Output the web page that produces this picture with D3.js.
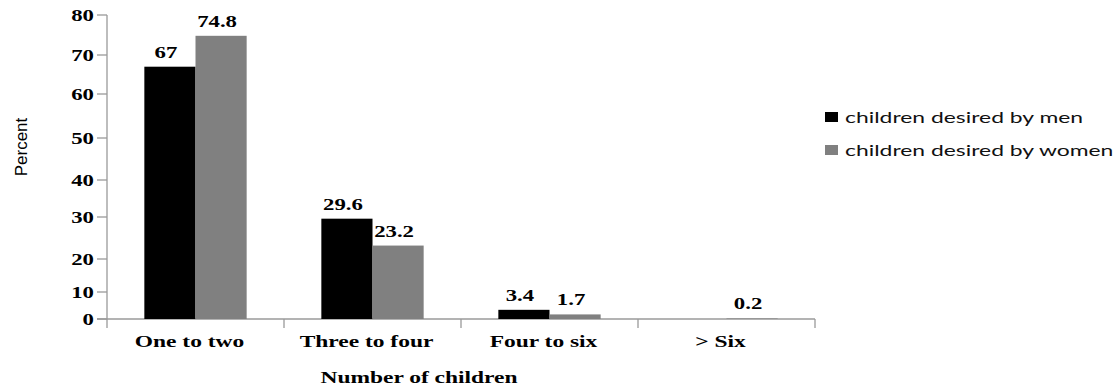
<!DOCTYPE html>
<html>
<head>
<meta charset="utf-8">
<script src="https://cdn.jsdelivr.net/npm/d3@7"></script>
<style>
  body { margin: 0; background: #fff; }
  svg { display: block; }
</style>
</head>
<body>
<div id="chart"></div>
<script>
// data
const categories = ["One to two", "Three to four", "Four to six", "> Six"];
const seriesNames = ["children desired by men", "children desired by women"];
const menValues = [67, 29.6, 3.4, null];
const womenValues = [74.8, 23.2, 1.7, 0.2];
const yTicks = [0, 10, 20, 30, 40, 50, 60, 70, 80];

const colors = ["#000000", "#808080"];
const width = 1117, height = 387;

// the original picture is stretched sideways, so is its text
const SERIF_SX = 1.38;
const LEGEND_SX = 1.43;
const serif = "'Liberation Serif', 'Times New Roman', serif";

const svg = d3.select("#chart").append("svg")
    .attr("width", width)
    .attr("height", height);

// x scales: outer band per category, inner band per series
const x0 = d3.scaleBand()
    .domain(categories)
    .range([107, 815])
    .paddingInner(0)
    .paddingOuter(0);

const x1 = d3.scaleBand()
    .domain(seriesNames)
    .range([0, x0.bandwidth()])
    .paddingInner(0)
    .paddingOuter(0.73);

// the source axis is unevenly spaced, so map each tick to where it sits
const y = d3.scaleLinear()
    .domain(yTicks)
    .range([319, 292, 259, 217, 180, 138, 94, 55, 15]);

const axisColor = "#9a9a9a";

function stretchedText(sel, sx) {
    sel.attr("transform", function() {
        const t = d3.select(this);
        return `translate(${t.attr("data-x")},${t.attr("data-y")}) scale(${sx},1)`;
    });
}

// y axis line + ticks
svg.append("line")
    .attr("x1", 107).attr("x2", 107)
    .attr("y1", y(80)).attr("y2", y(0))
    .attr("stroke", axisColor).attr("stroke-width", 1.3);

svg.selectAll(".ytick")
    .data(yTicks)
    .join("line")
    .attr("class", "ytick")
    .attr("x1", 97).attr("x2", 107)
    .attr("y1", d => y(d)).attr("y2", d => y(d))
    .attr("stroke", axisColor).attr("stroke-width", 1.3);

svg.selectAll(".ylabel")
    .data(yTicks)
    .join("text")
    .attr("class", "ylabel")
    .attr("data-x", 94)
    .attr("data-y", d => y(d) + 5.5)
    .attr("text-anchor", "end")
    .style("font-family", serif)
    .style("font-weight", "bold")
    .style("font-size", "16.5px")
    .text(d => d)
    .call(stretchedText, SERIF_SX);

// x axis line + ticks
svg.append("line")
    .attr("x1", 97).attr("x2", 815)
    .attr("y1", y(0)).attr("y2", y(0))
    .attr("stroke", axisColor).attr("stroke-width", 1.3);

const xTickPos = categories.map(c => x0(c)).concat([x0.range()[1]]);
svg.selectAll(".xtick")
    .data(xTickPos)
    .join("line")
    .attr("class", "xtick")
    .attr("x1", d => d).attr("x2", d => d)
    .attr("y1", y(0)).attr("y2", y(0) + 9)
    .attr("stroke", axisColor).attr("stroke-width", 1.3);

svg.selectAll(".xlabel")
    .data(categories)
    .join("text")
    .attr("class", "xlabel")
    .attr("data-x", d => x0(d) + x0.bandwidth() / 2 - 6)
    .attr("data-y", 347)
    .attr("text-anchor", "middle")
    .style("font-family", serif)
    .style("font-weight", "bold")
    .style("font-size", "17px")
    .text(d => d)
    .call(stretchedText, SERIF_SX);

// bars
const barData = [];
categories.forEach((c, i) => {
    barData.push({ cat: c, series: seriesNames[0], value: menValues[i], color: colors[0] });
    barData.push({ cat: c, series: seriesNames[1], value: womenValues[i], color: colors[1] });
});
const shown = barData.filter(d => d.value !== null);

svg.selectAll(".bar")
    .data(shown)
    .join("rect")
    .attr("class", "bar")
    .attr("x", d => x0(d.cat) + x1(d.series))
    .attr("width", x1.bandwidth())
    .attr("y", d => y(d.value))
    .attr("height", d => y(0) - y(d.value))
    .attr("fill", d => d.color);

// value labels
svg.selectAll(".vlabel")
    .data(shown)
    .join("text")
    .attr("class", "vlabel")
    .attr("data-x", d => x0(d.cat) + x1(d.series) + x1.bandwidth() / 2 - 4)
    .attr("data-y", d => y(d.value) - 9)
    .attr("text-anchor", "middle")
    .style("font-family", serif)
    .style("font-weight", "bold")
    .style("font-size", "16.5px")
    .text(d => d.value)
    .call(stretchedText, SERIF_SX);

// axis titles
svg.append("text")
    .attr("transform", "translate(27,147) rotate(-90)")
    .attr("text-anchor", "middle")
    .style("font-family", "'Liberation Sans', Arial, sans-serif")
    .style("font-size", "17px")
    .text("Percent");

svg.append("text")
    .attr("data-x", 419)
    .attr("data-y", 383)
    .attr("text-anchor", "middle")
    .style("font-family", serif)
    .style("font-weight", "bold")
    .style("font-size", "17px")
    .text("Number of children")
    .call(stretchedText, SERIF_SX);

// legend
const legend = svg.append("g").attr("class", "legend");
const legendY = [117, 150];

legend.selectAll("rect")
    .data(seriesNames)
    .join("rect")
    .attr("x", 825)
    .attr("y", (d, i) => legendY[i] - 5)
    .attr("width", 13)
    .attr("height", 10)
    .attr("fill", (d, i) => colors[i]);

legend.selectAll("text")
    .data(seriesNames)
    .join("text")
    .attr("data-x", 845)
    .attr("data-y", (d, i) => legendY[i] + 5.5)
    .style("font-family", "Lato, 'Open Sans', sans-serif")
    .style("font-size", "16px")
    .style("fill", "#111")
    .text(d => d)
    .call(stretchedText, LEGEND_SX);
</script>
</body>
</html>
